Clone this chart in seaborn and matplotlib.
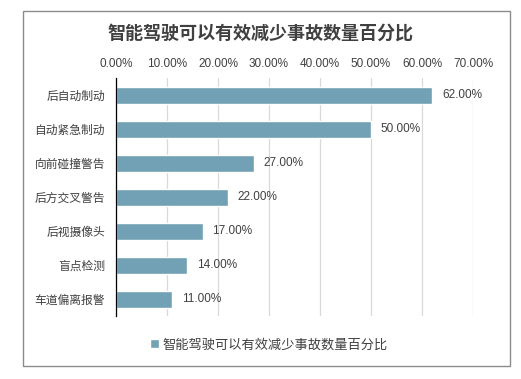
import matplotlib
matplotlib.use("Agg")
import matplotlib.pyplot as plt
import seaborn as sns
import pandas as pd
from matplotlib.patches import Rectangle
from matplotlib.ticker import FuncFormatter

categories = ["后自动制动", "自动紧急制动", "向前碰撞警告", "后方交叉警告", "后视摄像头", "盲点检测", "车道偏离报警"]
values = [62, 50, 27, 22, 17, 14, 11]
series_name = "智能驾驶可以有效减少事故数量百分比"
title = "智能驾驶可以有效减少事故数量百分比"
xticks = [0, 10, 20, 30, 40, 50, 60, 70]

sns.set_theme(style="white")
plt.rcParams['font.family'] = ['Liberation Sans', 'Noto Sans CJK SC', 'DejaVu Sans']

df = pd.DataFrame({"cat": categories, "val": values, "series": series_name})

fig = plt.figure(figsize=(5.21, 3.79), dpi=100)
fig.patch.set_facecolor("white")
fig.patches.append(Rectangle((23/521, 1-366/379), 487/521, 355/379, transform=fig.transFigure,
                             fill=False, edgecolor="#8c8c8c", linewidth=1.0, zorder=0))

ax = fig.add_axes([116/521, 1-316/379, (473-116)/521, (316-78)/379])
color = "#72A1B5"
sns.barplot(data=df, x="val", y="cat", hue="series", palette=[color], width=0.5,
            orient="h", ax=ax, saturation=1, legend=True)

ax.set_xlim(0, 70)
ax.set_xticks(xticks)
ax.xaxis.set_major_formatter(FuncFormatter(lambda v, p: f"{v:.2f}%"))
ax.xaxis.tick_top()
ax.tick_params(axis="x", length=0, pad=6, labelsize=8.5, labelcolor="#404040")
ax.tick_params(axis="y", length=0, pad=8, labelsize=8.5, labelcolor="#404040")
ax.set_xlabel("")
ax.set_ylabel("")
ax.grid(axis="x", color="#d9d9d9", linewidth=0.9)
ax.set_axisbelow(True)
for s in ["top", "right", "bottom"]:
    ax.spines[s].set_visible(False)
ax.spines["left"].set_color("#000000")
ax.spines["left"].set_linewidth(0.9)

for cont in ax.containers:
    ax.bar_label(cont, labels=[f"{v:.2f}%" for v in values], padding=7, fontsize=8.5, color="#404040")

fig.text(0.5, 1-34/379, title, ha="center", va="center", fontsize=13, fontweight="bold", color="#404040")

h, l = ax.get_legend_handles_labels()
ax.get_legend().remove()
fig.legend(h, l, loc="center", bbox_to_anchor=(0.516, 1-345/379), frameon=False, fontsize=9.5,
           handlelength=0.7, handleheight=0.7, handletextpad=0.3, labelcolor="#404040")

fig.savefig("out.png", dpi=100, facecolor="white")
